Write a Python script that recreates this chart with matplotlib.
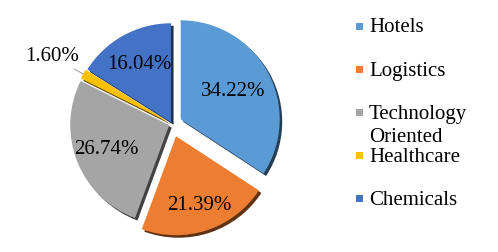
import numpy as np
import matplotlib.pyplot as plt
import matplotlib.transforms as mtransforms
from matplotlib.colors import to_rgb
from matplotlib.patches import Rectangle

sectors = ['Hotels', 'Logistics', 'Technology\nOriented', 'Healthcare', 'Chemicals']
shares = [34.22, 21.39, 26.74, 1.60, 16.04]
colors = ['#5B9BD5', '#ED7D31', '#A5A5A5', '#FFC000', '#4472C4']
explode = [0.1, 0.13, 0.03, 0.03, 0.02]

plt.rcParams['font.family'] = ['Liberation Serif', 'DejaVu Serif']

fig = plt.figure(figsize=(4.98, 2.52), dpi=100)
ax = fig.add_axes([0, 0, 344 / 498, 1])

# dark copy of the pie, shifted down-right, acts as the shadow
shadow_colors = [tuple(c * 0.4 for c in to_rgb(col)) for col in colors]
sw, _ = ax.pie(shares, colors=shadow_colors, startangle=90, counterclock=False,
               explode=explode)
shift = mtransforms.ScaledTranslation(2.5 / 100, -2.5 / 100, fig.dpi_scale_trans)
for w in sw:
    w.set_transform(w.get_transform() + shift)

wedges, _ = ax.pie(shares, colors=colors, startangle=90, counterclock=False,
                   explode=explode)

# percent labels
label_dist = [0.6, 0.74, 0.68, 1.36, 0.67]
for w, val, d in zip(wedges, shares, label_dist):
    mid = np.deg2rad((w.theta1 + w.theta2) / 2)
    cx, cy = w.center
    ax.text(cx + d * np.cos(mid), cy + d * np.sin(mid), f'{val:.2f}%',
            ha='center', va='center', fontsize=15, color='black')

# leader line for the small slice
w = wedges[3]
mid = np.deg2rad((w.theta1 + w.theta2) / 2)
cx, cy = w.center
ax.plot([cx + 1.0 * np.cos(mid), cx + 1.1 * np.cos(mid)],
        [cy + 1.0 * np.sin(mid), cy + 1.1 * np.sin(mid)],
        color='#A6A6A6', lw=0.8)

ax.set_xlim(-172 / 99, 172 / 99)
ax.set_ylim(-128 / 99, 124 / 99)

# legend drawn by hand, in pixel coordinates
lax = fig.add_axes([0, 0, 1, 1])
lax.set_xlim(0, 498)
lax.set_ylim(252, 0)
lax.axis('off')
for i, (name, col) in enumerate(zip(sectors, colors)):
    base = 32.5 + i * 43.2
    lax.add_patch(Rectangle((356, base - 10), 7, 7, color=col, lw=0))
    for k, line in enumerate(name.split('\n')):
        lax.text(369, base + k * 22.7, line, ha='left', va='baseline',
                 fontsize=15, color='black')

fig.savefig('out.png', dpi=100)
